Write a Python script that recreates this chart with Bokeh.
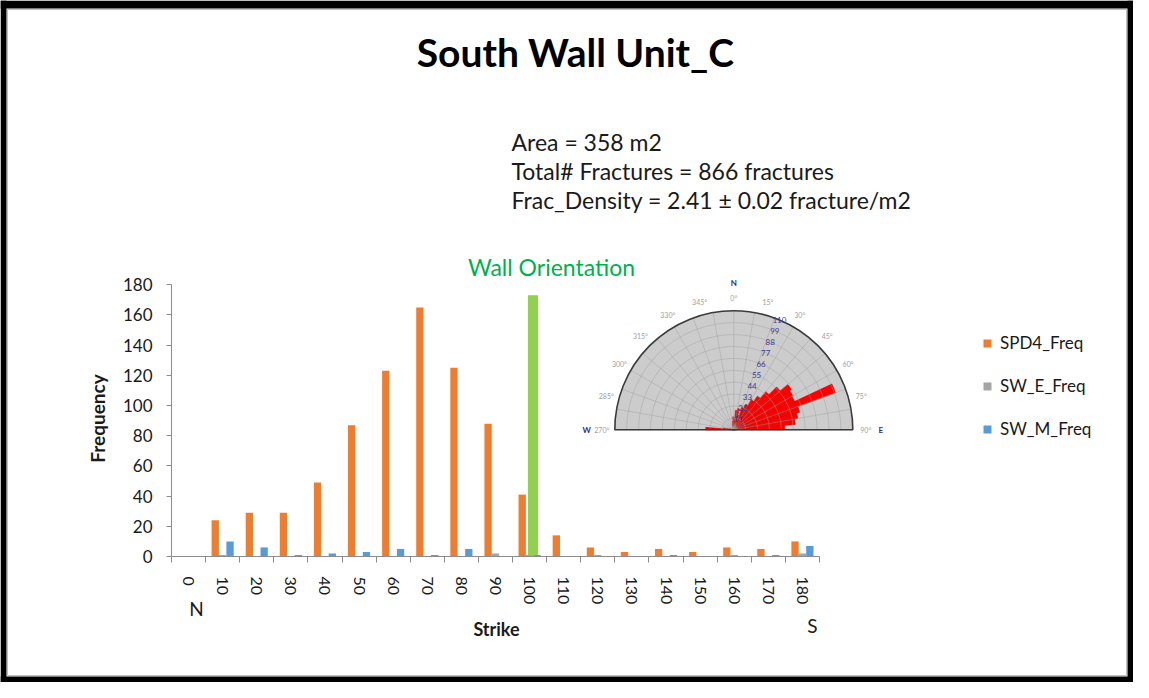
import math
from bokeh.plotting import figure
from bokeh.models import (Range1d, FixedTicker, Label, Legend, LegendItem,
                          ColumnDataSource)
from bokeh.core.properties import value
from bokeh.transform import dodge
from bokeh.embed import file_html
from bokeh.resources import INLINE

# ---------------- data ----------------
strikes = [0, 10, 20, 30, 40, 50, 60, 70, 80, 90, 100, 110, 120, 130, 140, 150, 160, 170, 180]
spd4_freq = [0, 24, 29, 29, 49, 87, 123, 165, 125, 88, 41, 14, 6, 3, 5, 3, 6, 5, 10]
sw_e_freq = [0, 1, 0, 0, 0, 0, 0, 0, 0, 2, 1, 0, 1, 0, 0, 0, 1, 0, 2]
sw_m_freq = [0, 10, 6, 1, 2, 3, 5, 1, 5, 0, 1, 0, 0, 0, 1, 0, 0, 1, 7]
series_names = ["SPD4_Freq", "SW_E_Freq", "SW_M_Freq"]
wall_strike = 100
wall_freq = 173
y_ticks = [0, 20, 40, 60, 80, 100, 120, 140, 160, 180]

title_text = "South Wall Unit_C"
info_lines = ["Area = 358 m2",
              "Total# Fractures = 866 fractures",
              "Frac_Density = 2.41 \u00b1 0.02 fracture/m2"]
wall_label = "Wall Orientation"
x_title, y_title = "Strike", "Frequency"
x_end_labels = ["N", "S"]

# inset rose diagram (5-degree azimuth bins, counts)
rose_az = [0, 5, 10, 15, 20, 25, 30, 35, 40, 45, 50, 55, 60, 65, 70, 75, 80, 85,
           270, 275, 280, 345, 350, 355]
rose_red = [8, 18, 20, 14, 22, 26, 32, 38, 46, 56, 65, 63, 62, 100, 63, 60, 57, 47,
            26, 10, 4, 5, 8, 12]
rose_gray = [4, 3, 6, 3, 5, 2, 3, 2, 2, 3, 2, 2, 4, 2, 2, 2, 3, 4,
             5, 3, 2, 3, 2, 3]
rose_max = 110
rose_rings = [11, 22, 33, 44, 55, 66, 77, 88, 99, 110]
rose_angle_labels = [0, 15, 30, 45, 60, 75, 90, 270, 285, 300, 315, 330, 345]

# ---------------- colours ----------------
C_ORANGE = "#ED7D31"
C_GRAY = "#A5A5A5"
C_BLUE = "#5B9BD5"
C_GREEN = "#92D050"
C_AXIS = "#8C8C8C"
C_TEXT = "#1a1a1a"
FONT = "Lato"

# ---------------- layout (pixel frame) ----------------
W, H = 1133, 682
AX_X0, AX_X1 = 171, 819      # px of strike -5 / 185
AX_Y0, AX_Y180 = 556, 284.3  # px of frequency 0 / 180

pxx = (AX_X1 - AX_X0) / 190.0
pyy = (AX_Y0 - AX_Y180) / 180.0
x_start = -5 - AX_X0 / pxx
x_end = -5 + (W - AX_X0) / pxx
y_start = -(H - AX_Y0) / pyy
y_end = AX_Y0 / pyy


def up(y):
    return H - y


rad = math.radians

p = figure(width=W, height=H, output_backend="svg", toolbar_location=None,
           x_range=Range1d(x_start, x_end), y_range=Range1d(y_start, y_end),
           min_border=0, outline_line_color=None, background_fill_color="white",
           border_fill_color="white")
p.grid.visible = False
p.extra_x_ranges = {"px": Range1d(0, W)}
p.extra_y_ranges = {"py": Range1d(0, H)}
rk = dict(x_range_name="px", y_range_name="py")

# ---------------- frame border ----------------
p.quad(left=[0, 0, W - 6, 0], right=[6, W, W, W], bottom=[0, up(8), 0, 0],
       top=[H, H, H, 6], fill_color="black", line_color=None, **rk)
p.quad(left=[7], right=[W - 7], bottom=[7], top=[up(9)], fill_color=None,
       line_color="#BFBFBF", line_width=1, **rk)

# ---------------- bars ----------------
src = ColumnDataSource(dict(strike=strikes, spd4=spd4_freq, swe=sw_e_freq, swm=sw_m_freq))
bw = 2.15
r1 = p.vbar(x=dodge("strike", -2.17), top="spd4", width=bw, source=src,
            fill_color=C_ORANGE, line_color=None)
r2 = p.vbar(x=dodge("strike", 0.0), top="swe", width=bw, source=src,
            fill_color=C_GRAY, line_color=None)
r3 = p.vbar(x=dodge("strike", 2.17), top="swm", width=bw, source=src,
            fill_color=C_BLUE, line_color=None)
wall_base = sw_e_freq[strikes.index(wall_strike)]
p.vbar(x=[wall_strike + 1.0], bottom=[wall_base], top=[wall_freq], width=3.0,
       fill_color=C_GREEN, line_color=None)

# ---------------- axes (fixed inside the frame) ----------------
xa = p.xaxis[0]
xa.fixed_location = 0
xa.ticker = FixedTicker(ticks=strikes, minor_ticks=[s - 5 for s in strikes] + [185])
xa.bounds = (-5, 185)
xa.major_tick_out = 0
xa.major_tick_in = 0
xa.minor_tick_out = 6
xa.minor_tick_in = 0
xa.minor_tick_line_color = C_AXIS
xa.axis_line_color = C_AXIS
xa.major_label_orientation = "vertical"
xa.major_label_standoff = 14
xa.major_label_text_font = FONT
xa.major_label_text_font_size = "16px"
xa.major_label_text_color = C_TEXT

ya = p.yaxis[0]
ya.fixed_location = -5
ya.ticker = FixedTicker(ticks=y_ticks)
ya.bounds = (0, 180)
ya.major_tick_out = 5
ya.major_tick_in = 0
ya.minor_tick_out = 0
ya.minor_tick_in = 0
ya.major_tick_line_color = C_AXIS
ya.axis_line_color = C_AXIS
ya.major_label_standoff = 14
ya.major_label_text_font = FONT
ya.major_label_text_font_size = "17px"
ya.major_label_text_color = C_TEXT

# ---------------- texts ----------------
def add_label(x, y, text, size, color=C_TEXT, bold=False, align="center", angle=0.0):
    p.add_layout(Label(x=x, y=up(y), text=text, text_align=align, text_baseline="middle",
                       text_font=FONT, text_font_size=size, angle=angle,
                       text_font_style="bold" if bold else "normal",
                       text_color=color, **rk))


add_label(575, 51, title_text, "39px", color="black", bold=True)
for i, line in enumerate(info_lines):
    add_label(511, 141 + 29.3 * i, line, "23px", align="left")
add_label(551, 266, wall_label, "23px", color="#00B050")
add_label(496, 628, x_title, "18px", bold=True)
add_label(97, 418, y_title, "19px", bold=True, angle=math.pi / 2)
add_label(196, 608, x_end_labels[0], "19px")
add_label(812, 625, x_end_labels[1], "19px")

# ---------------- rose inset ----------------
cx, cy, R = 733.3, up(429.3), 119.0
k = R / rose_max
p.wedge(x=cx, y=cy, radius=R, start_angle=0, end_angle=math.pi,
        fill_color="#CCCCCC", line_color=None, **rk)
rose_src = ColumnDataSource(dict(
    r=[c * k for c in rose_red],
    rg=[c * k for c in rose_gray],
    a0=[rad(90 - (a + 5)) for a in rose_az],
    a1=[rad(90 - a) for a in rose_az]))
p.wedge(x=cx, y=cy, radius="r", start_angle="a0", end_angle="a1",
        source=rose_src, fill_color="#FF0000", line_color="#D00000", line_width=0.6, **rk)
p.wedge(x=cx, y=cy, radius="rg", start_angle="a0", end_angle="a1",
        source=rose_src, fill_color="#8A8A8A", line_color="#777777", line_width=0.5, **rk)
p.arc(x=cx, y=cy, radius=[v * k for v in rose_rings[:-1]], start_angle=0, end_angle=math.pi,
      line_color="#9E9E9E", line_alpha=0.55, line_width=0.8, **rk)
p.ray(x=cx, y=cy, length=R, angle=[rad(a) for a in range(0, 181, 10)],
      line_color="#9E9E9E", line_alpha=0.55, line_width=0.8, **rk)
p.wedge(x=cx, y=cy, radius=R, start_angle=0, end_angle=math.pi,
        fill_color=None, line_color="#3A3A3A", line_width=1.6, **rk)

ring_dir = rad(22.5)
p.text(x=[cx + v * k * math.sin(ring_dir) for v in rose_rings],
       y=[cy + v * k * math.cos(ring_dir) for v in rose_rings],
       text=[str(v) for v in rose_rings], text_align="center", text_baseline="middle",
       text_font=value(FONT), text_font_size="8px", text_color="#3B3B98", **rk)
p.text(x=[cx + 132 * math.sin(rad(a)) for a in rose_angle_labels],
       y=[cy + 132 * math.cos(rad(a)) for a in rose_angle_labels],
       text=[f"{a}\u00b0" for a in rose_angle_labels], text_align="center",
       text_baseline="middle", text_font=value(FONT), text_font_size="7px",
       text_color="#A0A0A0", **rk)
compass = {"N": 0, "E": 90, "W": 270}
p.text(x=[cx + 147 * math.sin(rad(a)) for a in compass.values()],
       y=[cy + 147 * math.cos(rad(a)) for a in compass.values()],
       text=list(compass.keys()), text_align="center", text_baseline="middle",
       text_font=value(FONT), text_font_size="8px", text_font_style="bold",
       text_color="#2E3192", **rk)

# ---------------- legend ----------------
LEG_ITEM_H, LEG_SPACING = 20, 22
leg_height = 3 * LEG_ITEM_H + 2 * LEG_SPACING
legend = Legend(items=[LegendItem(label=series_names[0], renderers=[r1]),
                       LegendItem(label=series_names[1], renderers=[r2]),
                       LegendItem(label=series_names[2], renderers=[r3])],
                location=(982, up(335 + leg_height)), orientation="vertical",
                glyph_width=10, glyph_height=10, label_height=LEG_ITEM_H, label_standoff=8,
                spacing=LEG_SPACING, padding=0, margin=0, border_line_color=None,
                background_fill_alpha=0, label_text_font=FONT,
                label_text_font_size="17px", label_text_color=C_TEXT)
p.add_layout(legend)

open("out.html", "w").write(file_html(p, INLINE))
